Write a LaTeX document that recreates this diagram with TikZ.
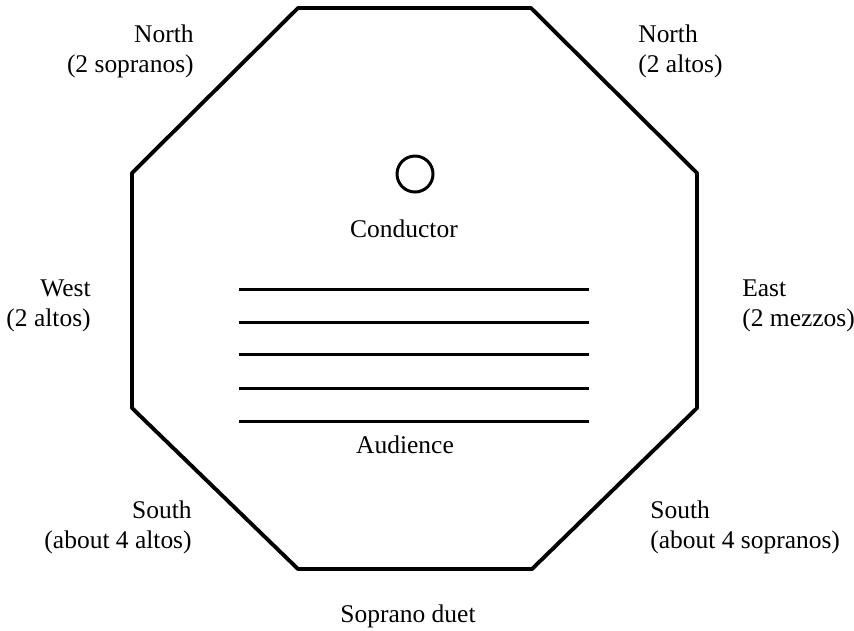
\documentclass[tikz,border=0pt]{standalone}
\usepackage{fontspec}
\setmainfont{Liberation Serif}
\begin{document}
\begin{tikzpicture}[x=0.02cm, y=-0.02cm, font=\fontsize{14.5}{17}\selectfont,
        label/.style={inner sep=0pt},
        row/.style={line width=1.7pt}]
    \useasboundingbox (0,0) rectangle (854,630);
    % stage outline
    \draw[line width=2.2pt, line join=round] (298,8) -- (531,8) -- (697,173) -- (697,408) -- (532,569) -- (298,569) -- (132,408) -- (132,173) -- cycle;
    \node[name=podium, shape=circle, draw=black, line width=1.7pt, minimum size=0.72cm, inner sep=0pt] at (415,174) {};
    \node[name=cond, label, anchor=base] at (404,237) {Conductor};
    % audience rows
    \foreach \y in {289,322,354,388,421}
        \draw[row] (239,\y) -- (589,\y);
    \node[name=aud, label, anchor=base] at (405,453) {Audience};
    \node[name=duet, label, anchor=base] at (408,622) {Soprano duet};
    % singers round the stage (base = last line)
    \node[name=nw, label, anchor=base east, align=right] at (194,72) {North\\(2 sopranos)};
    \node[name=ne, label, anchor=base west, align=left] at (638,72) {North\\(2 altos)};
    \node[name=w, label, anchor=base east, align=right] at (91,326) {West\\(2 altos)};
    \node[name=e, label, anchor=base west, align=left] at (742,326) {East\\(2 mezzos)};
    \node[name=sw, label, anchor=base east, align=right] at (192,548) {South\\(about 4 altos)};
    \node[name=se, label, anchor=base west, align=left] at (650,548) {South\\(about 4 sopranos)};
\end{tikzpicture}
\end{document}
